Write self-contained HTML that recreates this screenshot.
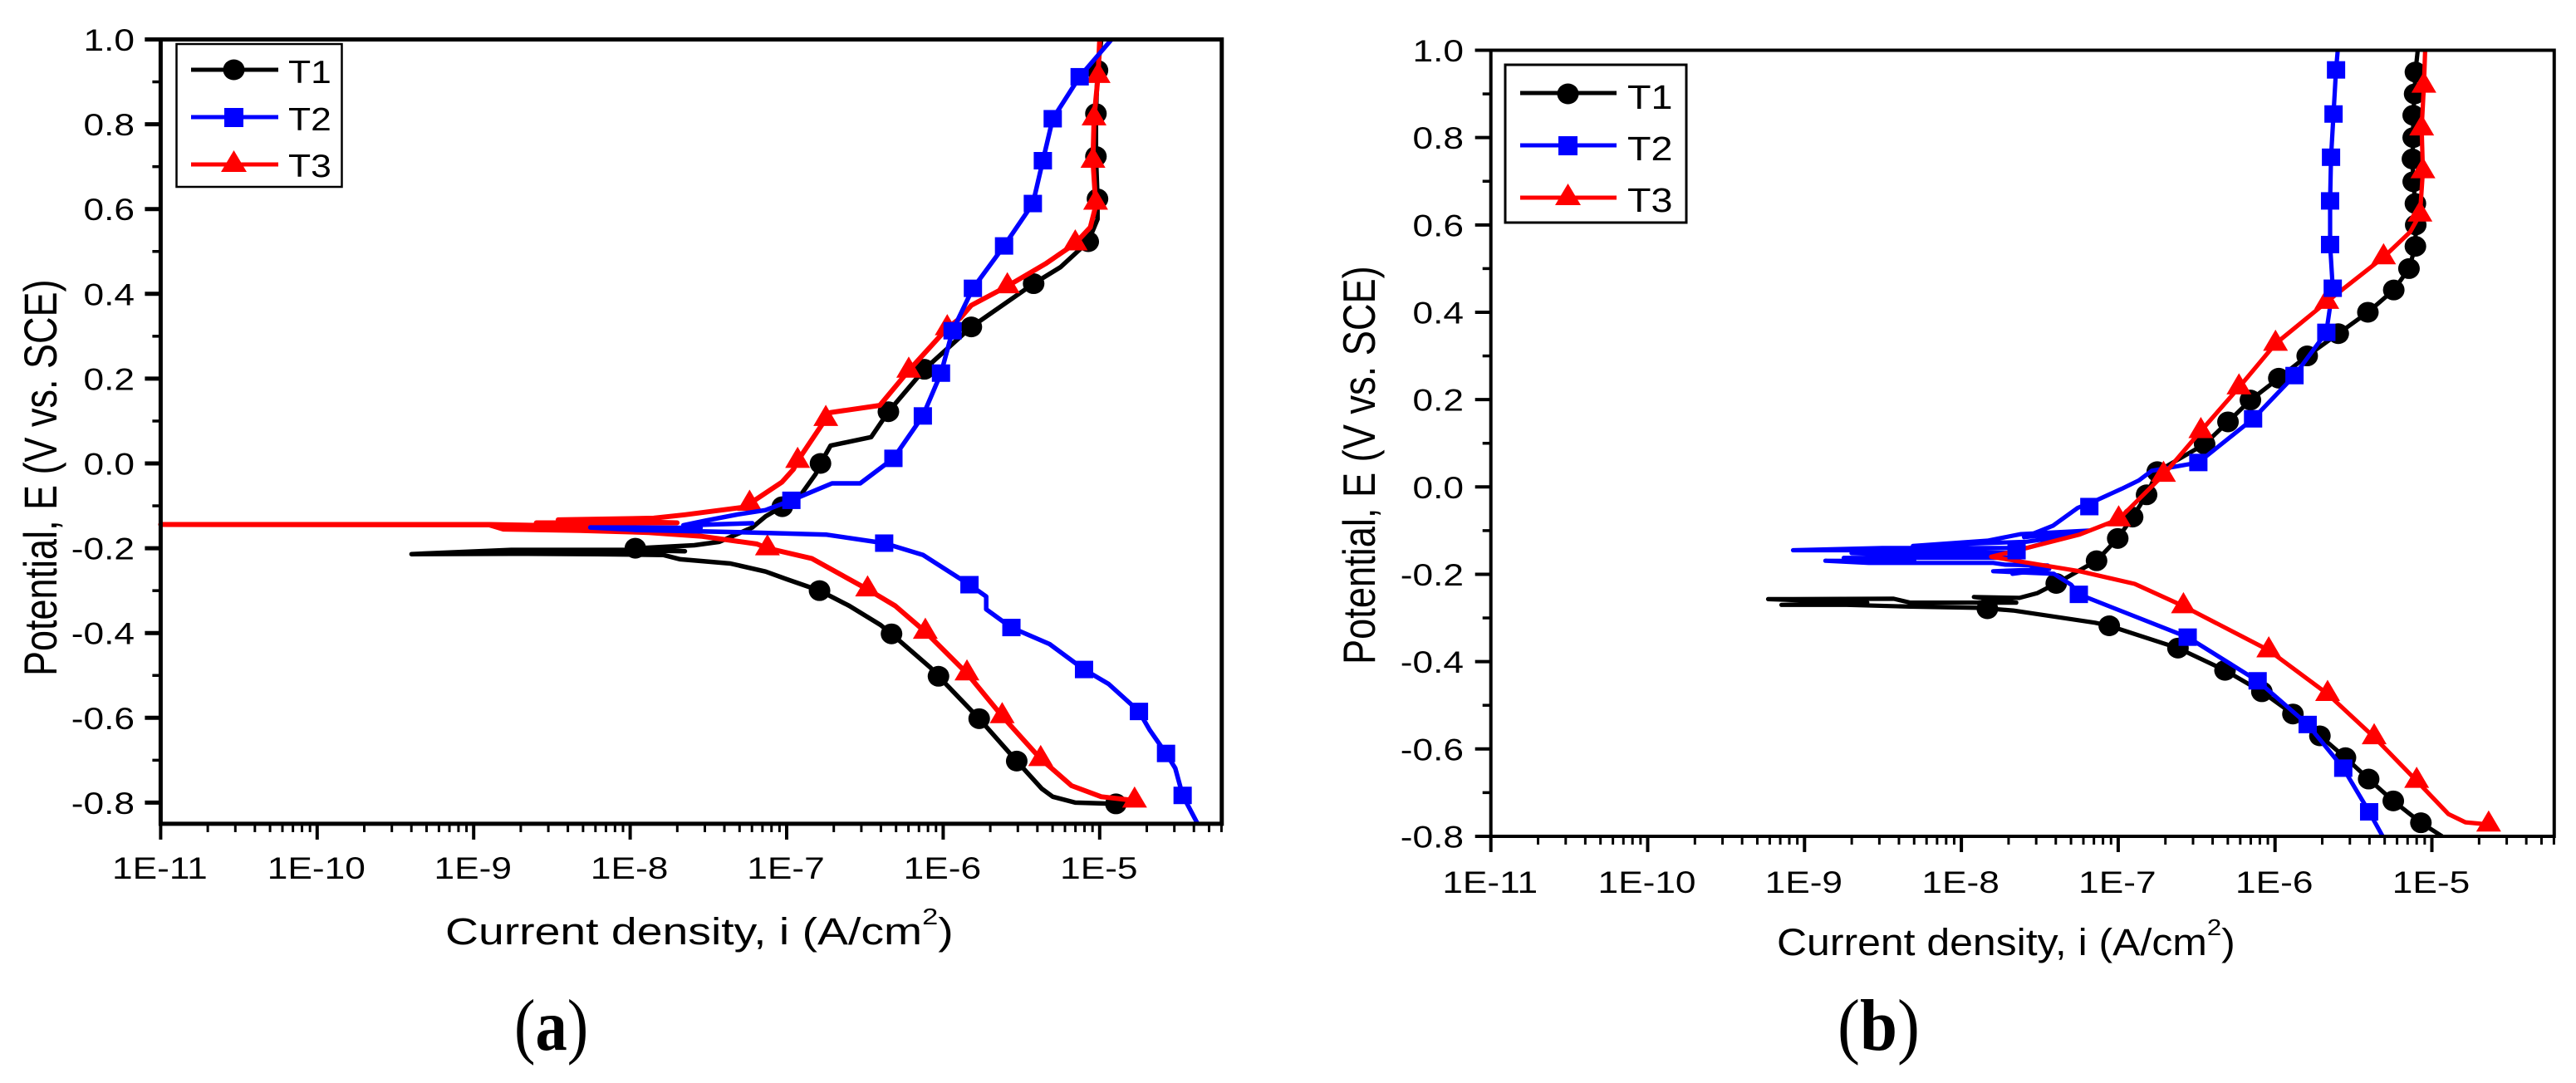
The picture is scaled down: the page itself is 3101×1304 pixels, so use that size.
<!DOCTYPE html>
<html lang="en">
<head>
<meta charset="utf-8">
<title>Potentiodynamic polarization curves</title>
<style>
html,body{margin:0;padding:0;background:#fff;}
svg{display:block;}
text{font-family:"Liberation Sans",Arial,sans-serif;fill:#000;}
.cap{font-family:"Liberation Serif","Times New Roman",serif;font-size:88px;}
</style>
</head>
<body>
<svg id="figure" xmlns="http://www.w3.org/2000/svg" width="3101" height="1304" viewBox="0 0 3101 1304">
<rect x="0" y="0" width="3101" height="1304" fill="#fff"/>

<g id="panelA"></g>
<g id="panelB"></g>

<g>
  <rect x="212.5" y="53" width="199" height="172" fill="#fff" stroke="#000" stroke-width="2.5"/>
  <g>
    <line x1="230" x2="335" y1="84" y2="84" stroke="#000" stroke-width="5"/>
    <ellipse cx="281.5" cy="84" rx="13" ry="12.5" fill="#000"/>
    <text transform="translate(347,100) scale(1.14,1)" font-size="39">T1</text>
  </g>
  <g>
    <line x1="230" x2="335" y1="141" y2="141" stroke="#00f" stroke-width="5"/>
    <rect x="270" y="130" width="23" height="23" fill="#00f"/>
    <text transform="translate(347,157) scale(1.14,1)" font-size="39">T2</text>
  </g>
  <g>
    <line x1="230" x2="335" y1="198" y2="198" stroke="#f00" stroke-width="5"/>
    <polygon points="281.5,181 297,207 266,207" fill="#f00"/>
    <text transform="translate(347,213) scale(1.14,1)" font-size="39">T3</text>
  </g>
</g>

<g>
  <rect x="1812" y="78" width="218" height="190" fill="#fff" stroke="#000" stroke-width="3"/>
  <g>
    <line x1="1830" x2="1946" y1="112" y2="112" stroke="#000" stroke-width="5"/>
    <ellipse cx="1887.5" cy="113" rx="13" ry="12.5" fill="#000"/>
    <text transform="translate(1959,131) scale(1.14,1)" font-size="41">T1</text>
  </g>
  <g>
    <line x1="1830" x2="1946" y1="175" y2="175" stroke="#00f" stroke-width="5"/>
    <rect x="1876" y="164" width="23" height="23" fill="#00f"/>
    <text transform="translate(1959,193) scale(1.14,1)" font-size="41">T2</text>
  </g>
  <g>
    <line x1="1830" x2="1946" y1="238" y2="238" stroke="#f00" stroke-width="5"/>
    <polygon points="1887.5,221 1903,247 1872,247" fill="#f00"/>
    <text transform="translate(1959,255) scale(1.14,1)" font-size="41">T3</text>
  </g>
</g>

<text transform="translate(68,814) rotate(-90) scale(1,1.24)" font-size="45">Potential, E (V vs. SCE)</text>
<text transform="translate(1655,800) rotate(-90) scale(1,1.22)" font-size="45.2">Potential, E (V vs. SCE)</text>

<text transform="translate(536,1137) scale(1.23,1)" font-size="45">Current density, i (A/cm<tspan font-size="28" dy="-24">2</tspan><tspan dy="24">)</tspan></text>
<text transform="translate(2139,1150) scale(1.11,1)" font-size="45">Current density, i (A/cm<tspan font-size="28" dy="-24">2</tspan><tspan dy="24">)</tspan></text>

<text class="cap" transform="translate(619,1264) scale(.87,1)">(<tspan font-weight="bold">a</tspan>)</text>
<text class="cap" transform="translate(2212,1264) scale(.92,1)">(<tspan font-weight="bold">b</tspan>)</text>
</svg>

<script>
// Shared axis ticks
const xDecades = [-11, -10, -9, -8, -7, -6, -5];
const xTickLabels = ["1E-11", "1E-10", "1E-9", "1E-8", "1E-7", "1E-6", "1E-5"];
const yMajorValues = [1.0, 0.8, 0.6, 0.4, 0.2, 0.0, -0.2, -0.4, -0.6, -0.8];
const yTickLabels = ["1.0", "0.8", "0.6", "0.4", "0.2", "0.0", "-0.2", "-0.4", "-0.6", "-0.8"];
const yMinorValues = [0.9, 0.7, 0.5, 0.3, 0.1, -0.1, -0.3, -0.5, -0.7];

// Panel (a): log10(current density) and potential
const aT1LogI = [-4.896,-5.156,-5.30,-5.37,-5.53,-5.77,-6.03,-6.08,-6.33,-6.40,-6.6,-6.79,-7.0,-7.135,-7.36,-7.68,-7.786,-8.21,-8.76,-9.397,-8.76,-8.04,-7.65,-7.95,-7.85,-7.59,-7.43,-7.35,-7.22,-7.135,-7.03,-6.91,-6.815,-6.784,-6.72,-6.46,-6.35,-6.12,-5.82,-5.422,-5.25,-5.073,-5.014,-5.014,-5.024,-5.024,-5.014,-4.99];
const aT1E = [-.803,-.800,-.786,-.767,-.702,-.602,-.502,-.482,-.402,-.381,-.336,-.30,-.273,-.255,-.236,-.226,-.216,-.214,-.213,-.214,-.204,-.204,-.207,-.2,-.198,-.193,-.185,-.172,-.151,-.125,-.102,-.074,-.025,0,.042,.062,.122,.222,.322,.424,.463,.523,.576,.624,.724,.825,.927,1.0];
const aT1MarkLogI = [-4.896,-5.53,-5.77,-6.03,-6.33,-6.79,-7.967,-7.028,-6.784,-6.35,-6.12,-5.82,-5.422,-5.073,-5.014,-5.024,-5.024,-5.014];
const aT1MarkE = [-.803,-.702,-.602,-.502,-.402,-.30,-.2,-.102,0,.122,.222,.322,.424,.523,.624,.724,.825,.927];

const aT3LogI = [-4.777,-4.99,-5.18,-5.32,-5.377,-5.623,-5.848,-6.114,-6.306,-6.483,-6.84,-7.123,-7.19,-7.54,-7.88,-8.32,-8.81,-8.90,-11,-8.9,-8.0,-8.6,-7.7,-8.46,-7.85,-7.65,-7.29,-7.237,-7.03,-6.957,-6.93,-6.75,-6.72,-6.405,-6.22,-5.974,-5.89,-5.82,-5.59,-5.346,-5.156,-5.06,-5.026,-5.026,-5.043,-5.036,-5.01,-5.0];
const aT3E = [-.795,-.786,-.76,-.715,-.697,-.596,-.495,-.397,-.336,-.297,-.224,-.2,-.19,-.172,-.163,-.158,-.155,-.145,-.144,-.144,-.15,-.14,-.14,-.133,-.129,-.121,-.104,-.095,-.044,-.014,.006,.105,.12,.137,.219,.319,.343,.373,.418,.471,.519,.557,.606,.615,.714,.814,.914,1.0];
const aT3MarkLogI = [-4.777,-5.377,-5.623,-5.848,-6.114,-6.483,-7.123,-7.237,-6.93,-6.75,-6.22,-5.974,-5.59,-5.156,-5.026,-5.043,-5.036,-5.01];
const aT3MarkE = [-.795,-.697,-.596,-.495,-.397,-.297,-.2,-.095,.006,.105,.219,.319,.418,.519,.615,.714,.814,.914];

const aT2LogI = [-4.374,-4.47,-4.517,-4.576,-4.68,-4.749,-4.943,-5.10,-5.32,-5.564,-5.725,-5.725,-5.832,-6.128,-6.377,-6.744,-7.313,-7.96,-8.255,-7.55,-7.66,-7.22,-7.66,-7.52,-7.31,-7.135,-6.97,-6.71,-6.53,-6.318,-6.13,-6.014,-5.94,-5.81,-5.611,-5.427,-5.363,-5.30,-5.128,-4.924];
const aT2E = [-.85,-.783,-.719,-.684,-.629,-.585,-.520,-.486,-.426,-.387,-.344,-.314,-.286,-.216,-.188,-.168,-.162,-.157,-.151,-.152,-.146,-.141,-.146,-.135,-.12,-.11,-.087,-.047,-.047,.012,.112,.213,.313,.413,.513,.613,.714,.813,.912,1.0];
const aT2MarkLogI = [-4.47,-4.576,-4.749,-5.10,-5.564,-5.832,-6.377,-6.97,-6.318,-6.13,-6.014,-5.94,-5.81,-5.611,-5.427,-5.363,-5.30,-5.128];
const aT2MarkE = [-.783,-.684,-.585,-.486,-.387,-.286,-.188,-.087,.012,.112,.213,.313,.413,.513,.613,.714,.813,.912];

// Panel (b): log10(current density) and potential
const bT1LogI = [-4.935,-5.07,-5.246,-5.403,-5.551,-5.714,-5.886,-6.084,-6.319,-6.619,-7.057,-7.147,-7.67,-7.885,-8.326,-8.73,-9.147,-8.6,-9.232,-8.432,-8.326,-7.65,-7.92,-7.63,-7.515,-7.395,-7.138,-7.003,-6.908,-6.819,-6.751,-6.449,-6.30,-6.157,-5.976,-5.795,-5.597,-5.408,-5.243,-5.146,-5.105,-5.103,-5.105,-5.119,-5.124,-5.119,-5.119,-5.11,-5.105,-5.09];
const bT1E = [-.80,-.769,-.719,-.669,-.62,-.57,-.52,-.469,-.42,-.369,-.318,-.311,-.283,-.277,-.274,-.27,-.27,-.265,-.257,-.256,-.265,-.265,-.252,-.254,-.243,-.221,-.169,-.118,-.069,-.018,.035,.098,.149,.199,.249,.30,.351,.40,.451,.50,.551,.60,.649,.699,.751,.80,.851,.90,.95,1.0];
const bT1MarkLogI = [-5.07,-5.246,-5.403,-5.551,-5.714,-5.886,-6.084,-6.319,-6.619,-7.057,-7.834,-7.395,-7.138,-7.003,-6.908,-6.819,-6.751,-6.449,-6.30,-6.157,-5.976,-5.795,-5.597,-5.408,-5.243,-5.146,-5.105,-5.103,-5.105,-5.119,-5.124,-5.119,-5.119,-5.11,-5.105];
const bT1MarkE = [-.769,-.719,-.669,-.62,-.57,-.52,-.469,-.42,-.369,-.318,-.279,-.221,-.169,-.118,-.069,-.018,.035,.098,.149,.199,.249,.30,.351,.40,.451,.50,.551,.60,.649,.699,.751,.80,.851,.90,.95];

const bT3LogI = [-4.638,-4.786,-4.895,-5.097,-5.368,-5.665,-6.04,-6.584,-6.895,-7.246,-7.81,-7.585,-7.246,-6.997,-6.711,-6.473,-6.23,-5.997,-5.67,-5.308,-5.138,-5.076,-5.057,-5.065,-5.051,-5.043];
const bT3E = [-.773,-.768,-.749,-.673,-.573,-.474,-.374,-.273,-.222,-.193,-.16,-.14,-.109,-.074,.028,.128,.228,.328,.424,.526,.584,.624,.723,.821,.919,1.0];
const bT3MarkLogI = [-4.638,-5.097,-5.368,-5.665,-6.04,-6.584,-6.997,-6.711,-6.473,-6.23,-5.997,-5.67,-5.308,-5.076,-5.057,-5.065,-5.051];
const bT3MarkE = [-.773,-.673,-.573,-.474,-.374,-.273,-.074,.028,.128,.228,.328,.424,.526,.624,.723,.821,.919];

const bT2LogI = [-5.314,-5.4,-5.565,-5.792,-6.111,-6.557,-7.251,-7.30,-7.41,-7.797,-7.44,-7.674,-7.45,-7.72,-7.797,-8.59,-8.867,-8.3,-8.75,-7.65,-8.7,-7.62,-8.5,-9.073,-8.503,-7.585,-7.267,-7.585,-8.2,-8.309,-7.833,-7.62,-7.187,-7.6,-7.417,-7.258,-7.147,-6.976,-6.868,-6.786,-6.489,-6.14,-5.876,-5.673,-5.632,-5.649,-5.649,-5.643,-5.627,-5.611,-5.6];
const bT2E = [-.80,-.744,-.644,-.544,-.444,-.344,-.246,-.224,-.199,-.193,-.188,-.199,-.18,-.178,-.174,-.174,-.169,-.17,-.1625,-.1625,-.1516,-.1516,-.145,-.145,-.14,-.14,-.109,-.1256,-.133,-.135,-.123,-.108,-.10,-.115,-.089,-.048,-.032,-.004,.015,.037,.056,.156,.255,.354,.455,.555,.655,.755,.854,.955,1.0];
const bT2MarkLogI = [-5.4,-5.565,-5.792,-6.111,-6.557,-7.251,-7.648,-7.184,-6.489,-6.14,-5.876,-5.673,-5.632,-5.649,-5.649,-5.643,-5.627,-5.611];
const bT2MarkE = [-.744,-.644,-.544,-.444,-.344,-.246,-.146,-.045,.056,.156,.255,.354,.455,.555,.655,.755,.854,.955];

const NS = "http://www.w3.org/2000/svg";

function make(tag, attrs, parent) {
  const el = document.createElementNS(NS, tag);
  for (const k in attrs) el.setAttribute(k, attrs[k]);
  parent.appendChild(el);
  return el;
}

function drawPanel(root, geo, series) {
  const xPos = v => geo.xLeft + (v + 11) * geo.decade;
  const yPos = v => geo.yTop + (1 - v) * geo.unit;
  const xEnd = xPos(geo.logMax);
  const yEnd = yPos(geo.eMin);

  // Series, drawn first so that the frame sits on top
  series.forEach(s => {
    const group = make("g", {}, root);
    
    
    if (s.logI.length) {
      const pts = s.logI.map((v, i) => xPos(v).toFixed(1) + "," + yPos(s.e[i]).toFixed(1)).join(" ");
      const line = make("polyline", {points: pts, fill: "none", stroke: s.color, "stroke-width": s.width, "stroke-linejoin": "round", "stroke-linecap": "butt"}, group);
      
      
    }
    s.markLogI.forEach((v, i) => {
      const cx = xPos(v), cy = yPos(s.markE[i]);
      let m;
      if (s.shape === "circle") {
        m = make("ellipse", {cx: cx, cy: cy, rx: 13, ry: 12.5, fill: s.color}, group);
      } else if (s.shape === "square") {
        m = make("rect", {x: cx - 11, y: cy - 10.5, width: 22, height: 21, fill: s.color}, group);
      } else {
        m = make("polygon", {points: cx + "," + (cy - 17) + " " + (cx + 15) + "," + (cy + 8.5) + " " + (cx - 15) + "," + (cy + 8.5), fill: s.color}, group);
      }
      
      
    });
  });

  // Frame
  const frame = make("path", {d: "M" + (geo.xLeft - geo.majorLen) + " " + geo.yTop + "H" + xEnd + "V" + yEnd + "H" + geo.xLeft + "V" + geo.yTop, fill: "none", stroke: "#000", "stroke-width": geo.axisW, "stroke-linejoin": "miter"}, root);
  
  

  // Y ticks and labels
  yMajorValues.forEach((v, i) => {
    const y = yPos(v);
    const t = make("line", {x1: geo.xLeft - geo.majorLen, x2: geo.xLeft, y1: y, y2: y, stroke: "#000", "stroke-width": geo.tickW}, root);
    
    
    const lab = make("text", {transform: "translate(" + geo.yLabelX + "," + (y + 13.5) + ") scale(1.18,1)", "text-anchor": "end", "font-size": 37.5}, root);
    lab.textContent = yTickLabels[i];
    
    
  });
  yMinorValues.forEach(v => {
    const y = yPos(v);
    const t = make("line", {x1: geo.xLeft - 10, x2: geo.xLeft, y1: y, y2: y, stroke: "#000", "stroke-width": 3.5}, root);
    
    
  });

  // X ticks and labels
  xDecades.forEach((d, i) => {
    const x = xPos(d);
    const t = make("line", {x1: x, x2: x, y1: yEnd, y2: yEnd + 19, stroke: "#000", "stroke-width": 4}, root);
    
    
    const lab = make("text", {transform: "translate(" + (x - 1) + "," + geo.xLabelY + ") scale(1.18,1)", "text-anchor": "middle", "font-size": 37.5}, root);
    lab.textContent = xTickLabels[i];
    
    
    for (let k = 2; k <= 9; k++) {
      const lv = d + Math.log10(k);
      if (lv > geo.logMax + 0.001) break;
      const mx = xPos(lv);
      const mt = make("line", {x1: mx, x2: mx, y1: yEnd, y2: yEnd + 10, stroke: "#000", "stroke-width": 3}, root);
      
      
    }
  });
}

drawPanel(document.getElementById("panelA"),
  {xLeft: 193.4, decade: 188.4, yTop: 47.5, unit: 510.5, logMax: -4.22, eMin: -0.85, majorLen: 19, axisW: 5, tickW: 5, yLabelX: 162, xLabelY: 1058},
  [
    {name: "t1", color: "#000", width: 5.5, shape: "circle", logI: aT1LogI, e: aT1E, markLogI: aT1MarkLogI, markE: aT1MarkE},
    {name: "t3", color: "#f00", width: 6, shape: "triangle", logI: aT3LogI, e: aT3E, markLogI: aT3MarkLogI, markE: aT3MarkE},
    {name: "t2", color: "#00f", width: 5.5, shape: "square", logI: aT2LogI, e: aT2E, markLogI: aT2MarkLogI, markE: aT2MarkE}
  ]);

// In panel (b) the red curve runs over the blue band while the blue squares stay on top
drawPanel(document.getElementById("panelB"),
  {xLeft: 1794.7, decade: 188.8, yTop: 60.5, unit: 525.8, logMax: -4.22, eMin: -0.8, majorLen: 19, axisW: 4, tickW: 4, yLabelX: 1762, xLabelY: 1075},
  [
    {name: "t1", color: "#000", width: 5.2, shape: "circle", logI: bT1LogI, e: bT1E, markLogI: bT1MarkLogI, markE: bT1MarkE},
    {name: "t2", color: "#00f", width: 5.2, shape: "square", logI: bT2LogI, e: bT2E, markLogI: [], markE: []},
    {name: "t3", color: "#f00", width: 5.2, shape: "triangle", logI: bT3LogI, e: bT3E, markLogI: bT3MarkLogI, markE: bT3MarkE},
    {name: "t2", color: "#00f", width: 5.2, shape: "square", logI: [], e: [], markLogI: bT2MarkLogI, markE: bT2MarkE}
  ]);
</script>
</body>
</html>
